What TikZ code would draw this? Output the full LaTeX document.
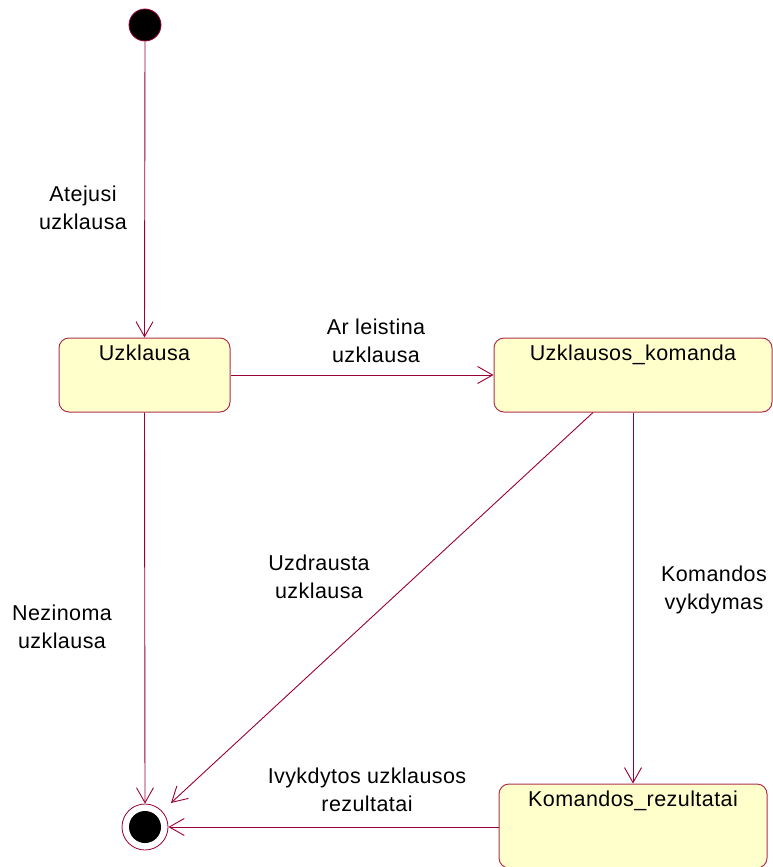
\documentclass[tikz,border=0pt]{standalone}
\usepackage{fontspec}
\setmainfont{Liberation Sans}[LetterSpace=2]
\usetikzlibrary{arrows.meta}
\definecolor{edge}{HTML}{990033}
\definecolor{boxfill}{HTML}{FFFFCC}
\definecolor{boxline}{HTML}{B03050}
\begin{document}
\begin{tikzpicture}[x=1pt,y=-1pt,
  every node/.style={font=\fontsize{21.5}{28}\selectfont},
  state/.style={draw=boxline, line width=1pt, fill=boxfill, rounded corners=10pt, inner sep=0pt},
  statename/.style={anchor=north, inner sep=0pt, yshift=-7pt},
  trans/.style={draw=edge, line width=0.9pt, -{Straight Barb[length=15pt,width=17pt,line width=0.9pt]}},
  lbl/.style={align=center, inner sep=0pt}]
  \useasboundingbox (0,0) rectangle (773,867);

  % initial and final pseudo-states
  \node[circle, draw=edge, fill=black, minimum size=32pt, inner sep=0pt, line width=0.8pt] (init) at (145,25) {};
  \node[circle, draw=edge, line width=0.8pt, minimum size=46pt, inner sep=0pt] (final) at (145,827) {};
  \node[circle, fill=black, minimum size=32pt, inner sep=0pt] (finaldot) at (145,827) {};

  % states
  \node[state, minimum width=171pt, minimum height=74pt,
        label={[statename, name=uzkname]north:Uzklausa}] (uzk) at (144.5,375) {};
  \node[state, minimum width=278pt, minimum height=74pt,
        label={[statename, name=komname]north:Uzklausos\_komanda}] (kom) at (633,375) {};
  \node[state, minimum width=268pt, minimum height=84pt,
        label={[statename, name=rezname]north:Komandos\_rezultatai}] (rez) at (633,826) {};

  % transitions
  \draw[trans] (init.south) -- (uzk.north);
  \draw[trans] (uzk.east) -- (kom.west);
  \draw[trans] (uzk.south) -- (final.north);
  \draw[trans, shorten >=12pt] ([xshift=-40pt]kom.south) -- (final);
  \draw[trans] (kom.south) -- (rez.north);
  \draw[trans] (rez.west |- final.east) -- (final.east);

  % transition labels
  \node[lbl] (l1) at (83,208) {Atejusi\\uzklausa};
  \node[lbl] (l2) at (376,341) {Ar leistina\\uzklausa};
  \node[lbl] (l3) at (62,627) {Nezinoma\\uzklausa};
  \node[lbl] (l4) at (319,577) {Uzdrausta\\uzklausa};
  \node[lbl] (l5) at (714,590) {Komandos\\vykdymas};
  \node[lbl] (l6) at (367,790) {Ivykdytos uzklausos\\rezultatai};
\end{tikzpicture}
\end{document}
